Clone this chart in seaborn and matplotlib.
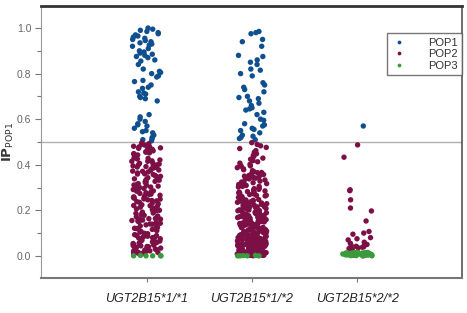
import matplotlib
matplotlib.use("Agg")
import matplotlib.pyplot as plt
from matplotlib.ticker import MultipleLocator
import seaborn as sns
import pandas as pd
import numpy as np

genotypes = ["UGT2B15*1/*1", "UGT2B15*1/*2", "UGT2B15*2/*2"]
pops = ["POP1", "POP2", "POP3"]
colors = {"POP1": "#0f4f8f", "POP2": "#7c1046", "POP3": "#3a9a3c"}

# values, one list per genotype / population
pop1_11 = [1.00, 0.995, 0.99, 0.985, 0.98, 0.975, 0.97, 0.965, 0.96, 0.955, 0.95, 0.945,
           0.94, 0.935, 0.93, 0.925, 0.92, 0.91, 0.90, 0.895, 0.89, 0.885, 0.88, 0.875,
           0.87, 0.86, 0.855, 0.84, 0.82, 0.81, 0.805, 0.80, 0.79, 0.785, 0.77, 0.765,
           0.75, 0.74, 0.735, 0.72, 0.715, 0.71, 0.70, 0.695, 0.69, 0.68, 0.62, 0.61,
           0.60, 0.59, 0.58, 0.575, 0.57, 0.56, 0.55, 0.545, 0.54, 0.53, 0.52, 0.515, 0.51, 0.505]
pop2_11 = [0.497, 0.492, 0.489, 0.486, 0.481, 0.478, 0.474, 0.472, 0.468, 0.463, 0.461, 0.457, 0.452, 0.449, 0.446,
           0.443, 0.438, 0.436, 0.431, 0.428, 0.425, 0.421, 0.417, 0.415, 0.409, 0.406, 0.403, 0.399, 0.396, 0.392,
           0.389, 0.386, 0.381, 0.377, 0.375, 0.371, 0.368, 0.364, 0.359, 0.357, 0.353, 0.349, 0.346, 0.343, 0.338,
           0.335, 0.332, 0.327, 0.324, 0.322, 0.317, 0.313, 0.311, 0.306, 0.302, 0.299, 0.296, 0.291, 0.288, 0.285,
           0.281, 0.277, 0.274, 0.271, 0.266, 0.263, 0.259, 0.256, 0.253, 0.249, 0.246, 0.241, 0.238, 0.235, 0.231,
           0.228, 0.224, 0.221, 0.217, 0.214, 0.209, 0.206, 0.203, 0.199, 0.196, 0.192, 0.188, 0.186, 0.181, 0.178,
           0.175, 0.171, 0.167, 0.164, 0.161, 0.157, 0.153, 0.149, 0.146, 0.143, 0.139, 0.136, 0.131, 0.128, 0.125,
           0.121, 0.118, 0.114, 0.111, 0.107, 0.104, 0.099, 0.097, 0.093, 0.089, 0.086, 0.082, 0.079, 0.075, 0.072,
           0.068, 0.065, 0.061, 0.058, 0.054, 0.051, 0.047, 0.044, 0.041, 0.037, 0.034, 0.031, 0.027, 0.024, 0.021,
           0.018, 0.015, 0.012, 0.010, 0.008, 0.47, 0.43, 0.39, 0.36, 0.31, 0.27, 0.22, 0.18, 0.14, 0.09,
           0.06, 0.03, 0.02, 0.015, 0.01, 0.455, 0.415, 0.372, 0.328, 0.284, 0.243, 0.207, 0.163, 0.116, 0.083,
           0.045, 0.025, 0.012, 0.48, 0.44, 0.40, 0.35, 0.30, 0.25, 0.20, 0.16, 0.12, 0.08, 0.04, 0.022,
           0.395, 0.255, 0.155, 0.055]
pop3_11 = [0.0, 0.0, 0.002, 0.0, 0.001, 0.0]

pop1_12 = [0.985, 0.98, 0.975, 0.95, 0.94, 0.92, 0.88, 0.875, 0.86, 0.85, 0.84, 0.82,
           0.815, 0.80, 0.79, 0.76, 0.75, 0.74, 0.73, 0.72, 0.70, 0.695, 0.69, 0.68,
           0.67, 0.66, 0.65, 0.645, 0.64, 0.63, 0.62, 0.60, 0.595, 0.58, 0.575, 0.57,
           0.56, 0.555, 0.55, 0.54, 0.53, 0.525, 0.52, 0.515, 0.51]
pop2_12 = [0.497, 0.489, 0.483, 0.476, 0.471, 0.462, 0.455, 0.448, 0.441, 0.436, 0.429, 0.424, 0.418, 0.413, 0.407, 0.402, 0.398, 0.393, 0.387, 0.382,
           0.378, 0.374, 0.369, 0.366, 0.361, 0.357, 0.353, 0.348, 0.344, 0.341, 0.336, 0.333, 0.328, 0.324, 0.321, 0.317, 0.313, 0.309, 0.305, 0.302,
           0.298, 0.295, 0.292, 0.288, 0.285, 0.282, 0.279, 0.276, 0.272, 0.269, 0.266, 0.263, 0.259, 0.256, 0.253, 0.251, 0.247, 0.244, 0.241, 0.238,
           0.235, 0.232, 0.229, 0.226, 0.223, 0.221, 0.218, 0.215, 0.212, 0.209, 0.207, 0.204, 0.201, 0.198, 0.196, 0.193, 0.191, 0.188, 0.186, 0.183,
           0.181, 0.178, 0.176, 0.173, 0.171, 0.168, 0.166, 0.163, 0.161, 0.159, 0.156, 0.154, 0.152, 0.149, 0.147, 0.145, 0.142, 0.140, 0.138, 0.136,
           0.133, 0.131, 0.129, 0.127, 0.125, 0.122, 0.120, 0.118, 0.116, 0.114, 0.112, 0.110, 0.108, 0.106, 0.104, 0.102, 0.100, 0.098, 0.096, 0.094,
           0.092, 0.090, 0.089, 0.087, 0.085, 0.083, 0.081, 0.080, 0.078, 0.076, 0.074, 0.073, 0.071, 0.069, 0.068, 0.066, 0.064, 0.063, 0.061, 0.060,
           0.058, 0.057, 0.055, 0.054, 0.052, 0.051, 0.049, 0.048, 0.046, 0.045, 0.044, 0.042, 0.041, 0.040, 0.038, 0.037, 0.036, 0.034, 0.033, 0.032,
           0.031, 0.030, 0.028, 0.027, 0.026, 0.025, 0.024, 0.023, 0.022, 0.021, 0.020, 0.019, 0.018, 0.017, 0.016, 0.015, 0.014, 0.013, 0.012, 0.011,
           0.010, 0.010, 0.009, 0.009, 0.008, 0.008, 0.007, 0.007, 0.006, 0.006, 0.005, 0.005, 0.004, 0.004, 0.003, 0.003, 0.002, 0.002, 0.001, 0.001,
           0.195, 0.172, 0.151, 0.134, 0.117, 0.099, 0.084, 0.072, 0.059, 0.047, 0.035, 0.024, 0.013, 0.006, 0.002, 0.178, 0.143, 0.109, 0.077, 0.043,
           0.35, 0.28, 0.26, 0.24, 0.22, 0.19, 0.17, 0.15, 0.13, 0.11, 0.09, 0.07, 0.05, 0.03, 0.01, 0.005,
           0.245, 0.236, 0.227, 0.217, 0.208, 0.199, 0.189, 0.181, 0.174, 0.165, 0.157, 0.148, 0.139, 0.132, 0.124, 0.115, 0.107, 0.101, 0.093, 0.086,
           0.079, 0.070, 0.065, 0.056, 0.050, 0.039, 0.033, 0.026, 0.019, 0.014, 0.009, 0.004, 0.215, 0.185, 0.155, 0.125, 0.095, 0.065, 0.035, 0.015,
           0.232, 0.202, 0.168, 0.137, 0.103, 0.075, 0.053, 0.029, 0.017, 0.008, 0.265, 0.275, 0.305, 0.315, 0.338, 0.365, 0.395, 0.425]
pop3_12 = [0.0, 0.0, 0.001, 0.0, 0.0, 0.002]

pop1_22 = [0.57]
pop2_22 = [0.487, 0.433, 0.29, 0.286, 0.246, 0.21, 0.197, 0.153, 0.107, 0.10, 0.095, 0.08,
           0.075, 0.07, 0.06, 0.055, 0.05, 0.048, 0.045, 0.042, 0.04, 0.038, 0.035, 0.032, 0.03]
pop3_22 = [0.0, 0.001, 0.002, 0.003, 0.004, 0.005, 0.006, 0.007, 0.008, 0.009, 0.01, 0.011,
           0.012, 0.013, 0.014, 0.015, 0.0, 0.002, 0.004, 0.006, 0.008, 0.01, 0.012, 0.014,
           0.001, 0.003, 0.005, 0.007, 0.009, 0.011, 0.013, 0.015, 0.0, 0.003, 0.006, 0.009,
           0.012, 0.015, 0.002, 0.005, 0.008, 0.011, 0.014, 0.004]

groups = {
    ("UGT2B15*1/*1", "POP1"): pop1_11, ("UGT2B15*1/*1", "POP2"): pop2_11, ("UGT2B15*1/*1", "POP3"): pop3_11,
    ("UGT2B15*1/*2", "POP1"): pop1_12, ("UGT2B15*1/*2", "POP2"): pop2_12, ("UGT2B15*1/*2", "POP3"): pop3_12,
    ("UGT2B15*2/*2", "POP1"): pop1_22, ("UGT2B15*2/*2", "POP2"): pop2_22, ("UGT2B15*2/*2", "POP3"): pop3_22,
}
rows = []
for (g, p), vals in groups.items():
    for v in vals:
        rows.append({"genotype": g, "pop": p, "ip": v})
df = pd.DataFrame(rows)

sns.set_style("white")
plt.rcParams["font.family"] = ["Liberation Sans", "DejaVu Sans"]

np.random.seed(3)
fig = plt.figure(figsize=(4.67, 3.13), dpi=100)
ax = fig.add_axes([0.088, 0.112, 0.901, 0.869])

# draw green first so the maroon points sit on top of it
sns.stripplot(data=df, x="genotype", y="ip", hue="pop", order=genotypes,
              hue_order=["POP3", "POP2", "POP1"], palette=colors,
              jitter=0.14, size=3.9, linewidth=0, ax=ax)

ax.axhline(0.5, color="#b0b0b0", lw=1, zorder=0)
ax.set_xlim(-1, 2.99)
ax.set_ylim(-0.097, 1.097)
ax.yaxis.set_major_locator(MultipleLocator(0.2))
ax.yaxis.set_minor_locator(MultipleLocator(0.1))
ax.yaxis.set_major_formatter(matplotlib.ticker.FormatStrFormatter("%.1f"))
ax.tick_params(axis="y", which="major", direction="out", length=4, width=0.8,
               color="#777777", labelcolor="#666666", labelsize=7.5, left=True, pad=3)
ax.tick_params(axis="y", which="minor", direction="out", length=3, width=0.8,
               color="#777777", left=True)
ax.tick_params(axis="x", direction="out", length=3, width=0.8, color="#777777",
               labelsize=9, labelcolor="#222222", bottom=True, pad=8)
for lab in ax.get_xticklabels():
    lab.set_fontstyle("italic")

ax.set_xlabel("")
ax.set_ylabel(r"$\mathbf{IP}_{\mathrm{POP1}}$", fontsize=9.5, color="#333333")
ax.yaxis.set_label_coords(-0.06, 0.5)

ax.spines["top"].set_color("#333333")
ax.spines["top"].set_linewidth(2)
ax.spines["right"].set_color("#555555")
ax.spines["right"].set_linewidth(1.2)
ax.spines["left"].set_color("#999999")
ax.spines["left"].set_linewidth(0.8)
ax.spines["bottom"].set_color("#777777")
ax.spines["bottom"].set_linewidth(1.5)

handles, labels = ax.get_legend_handles_labels()
order = [labels.index(p) for p in pops]
leg = ax.legend([handles[i] for i in order], [labels[i] for i in order],
                loc="upper right", bbox_to_anchor=(1.0, 0.90), borderaxespad=0,
                fontsize=8, markerscale=0.7, handletextpad=1.8, handlelength=1.5,
                labelspacing=0.15, frameon=True, fancybox=False, title=None)
leg.get_frame().set_edgecolor("#555555")
leg.get_frame().set_linewidth(1.0)
for t in leg.get_texts():
    t.set_color("#333333")

fig.savefig("out.png", dpi=100)
